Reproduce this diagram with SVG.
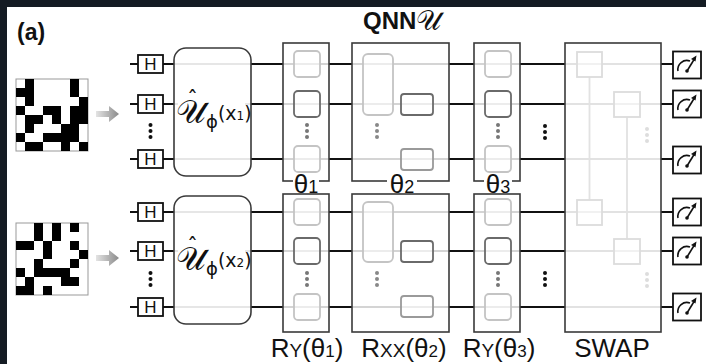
<svg xmlns="http://www.w3.org/2000/svg" width="706" height="364" viewBox="0 0 706 364">
  <defs>
    <style>
      .wire{stroke:#111;stroke-width:2;fill:none}
      .wire-in{stroke:#d4d4d4;stroke-width:2;fill:none}
      .wire-faint{stroke:#e6e6e6;stroke-width:2;fill:none}
      .blk{fill:none;stroke:#3a3a3a;stroke-width:1.6}
      .hbox{fill:#fff;stroke:#111;stroke-width:1.8}
      .htxt{font-family:"Liberation Sans",Arial,sans-serif;font-size:17px;fill:#111;text-anchor:middle}
      .g-light{fill:#fff;fill-opacity:0.55;stroke:#c4c4c4;stroke-width:1.8}
      .g-dark{fill:#fff;fill-opacity:0.55;stroke:#6a6a6a;stroke-width:1.8}
      .g-mid{fill:#fff;fill-opacity:0.55;stroke:#9a9a9a;stroke-width:1.8}
      .sw{fill:#fff;fill-opacity:0.5;stroke:#dcdcdc;stroke-width:1.8}
      .swl{stroke:#e2e2e2;stroke-width:1.8;fill:none}
      .lbl{font-family:"Liberation Sans",Arial,sans-serif;font-size:26px;fill:#111;text-anchor:middle}
      .enc{font-family:"DejaVu Sans","Noto Sans",sans-serif;fill:#111}
      .meas{fill:#fff;stroke:#111;stroke-width:1.8}
      .needle{stroke:#111;stroke-width:1.6;fill:none}
      .px{fill:#000}
    </style>
    <linearGradient id="arrowFill" x1="0" y1="0" x2="1" y2="0">
      <stop offset="0" stop-color="#e4e4e4"/>
      <stop offset="1" stop-color="#8a8a8a"/>
    </linearGradient>
    <g id="meter">
      <rect class="meas" x="-14" y="-13.5" width="28" height="27"/>
      <path class="needle" d="M -9 6 A 9 9 0 0 1 3 -4"/>
      <path class="needle" d="M 0 6 L 8 -7"/>
      <path d="M 9.5 -9.5 L 4 -6 L 8.5 -3.5 Z" fill="#111"/>
      <circle cx="0" cy="6" r="1.8" fill="#111"/>
    </g>
    <g id="vdots">
      <circle cx="0" cy="-6" r="2"/>
      <circle cx="0" cy="0" r="2"/>
      <circle cx="0" cy="6" r="2"/>
    </g>
  </defs>

  <rect width="706" height="364" fill="#fff"/>
  <!-- frame edges -->
  <rect x="0" y="0" width="706" height="7" fill="#141b23"/>
  <rect x="0" y="0" width="7" height="364" fill="#141b23"/>

  <text x="17" y="40" font-family="Liberation Sans,Arial,sans-serif" font-size="23" font-weight="bold" fill="#111">(a)</text>

  <!-- input images -->
  <g id="image1">
    <rect x="16" y="79" width="72" height="72" fill="#fff" stroke="#999" stroke-width="1"/>
    <g class="px" transform="translate(16,79)">
      <rect x="9" y="0" width="9" height="9"/><rect x="54" y="0" width="9" height="9"/>
      <rect x="0" y="9" width="18" height="9"/><rect x="54" y="9" width="9" height="9"/>
      <rect x="9" y="18" width="9" height="9"/><rect x="63" y="18" width="9" height="9"/>
      <rect x="0" y="27" width="9" height="9"/><rect x="27" y="27" width="18" height="9"/><rect x="54" y="27" width="18" height="9"/>
      <rect x="9" y="36" width="18" height="9"/><rect x="36" y="36" width="9" height="9"/><rect x="54" y="36" width="18" height="9"/>
      <rect x="9" y="45" width="9" height="9"/><rect x="45" y="45" width="18" height="9"/>
      <rect x="0" y="54" width="9" height="9"/><rect x="27" y="54" width="36" height="9"/>
      <rect x="9" y="63" width="18" height="9"/><rect x="45" y="63" width="9" height="9"/><rect x="63" y="63" width="9" height="9"/>
    </g>
  </g>
  <g id="image2">
    <rect x="16" y="223" width="72" height="72" fill="#fff" stroke="#999" stroke-width="1"/>
    <g class="px" transform="translate(16,223)">
      <rect x="18" y="0" width="9" height="18"/><rect x="36" y="0" width="9" height="18"/><rect x="54" y="0" width="9" height="9"/>
      <rect x="0" y="18" width="18" height="9"/><rect x="27" y="18" width="9" height="18"/><rect x="54" y="18" width="9" height="9"/>
      <rect x="63" y="27" width="9" height="9"/>
      <rect x="18" y="36" width="9" height="9"/><rect x="54" y="36" width="9" height="9"/>
      <rect x="0" y="45" width="9" height="9"/><rect x="18" y="45" width="36" height="9"/>
      <rect x="9" y="54" width="9" height="18"/><rect x="45" y="54" width="18" height="9"/>
      <rect x="0" y="63" width="9" height="9"/><rect x="27" y="63" width="9" height="9"/>
    </g>
  </g>

  <g id="connectors">
    <!-- image to circuit arrows -->
    <path d="M 96 111 H 109 V 106 L 119 114 L 109 122 V 117 H 96 Z" fill="url(#arrowFill)"/>
    <path d="M 96 255 H 109 V 250 L 119 258 L 109 266 V 261 H 96 Z" fill="url(#arrowFill)"/>

    <!-- qubit wires, upper register -->
    <g class="wire">
      <path d="M130 64H138M163 64H174M251 64H283M329 64H352M449 64H474M520 64H565M661 64H673"/>
      <path d="M130 104H138M163 104H174M251 104H283M329 104H352M449 104H474M520 104H565M661 104H673"/>
      <path d="M130 159H138M163 159H174M251 159H283M329 159H352M449 159H474M520 159H565M661 159H673"/>
    </g>
    <!-- qubit wires, lower register -->
    <g class="wire">
      <path d="M130 212H138M163 212H174M251 212H283M329 212H352M449 212H474M520 212H565M661 212H673"/>
      <path d="M130 251H138M163 251H174M251 251H283M329 251H352M449 251H474M520 251H565M661 251H673"/>
      <path d="M130 307H138M163 307H174M251 307H283M329 307H352M449 307H474M520 307H565M661 307H673"/>
    </g>
    <!-- wires seen through the blocks -->
    <g class="wire-faint">
      <path d="M174 64H251M174 104H178M245 104H251M174 159H251M174 212H251M174 251H178M245 251H251M174 307H251"/>
    </g>
    <g class="wire-in">
      <path d="M283 64H329M283 104H329M283 159H329M283 212H329M283 251H329M283 307H329"/>
      <path d="M352 64H449M352 104H449M352 159H449M352 212H449M352 251H449M352 307H449"/>
      <path d="M474 64H520M474 104H520M474 159H520M474 212H520M474 251H520M474 307H520"/>
    </g>
    <g class="swl">
      <path d="M565 64H661M565 104H661M565 159H661M565 212H661M565 251H661M565 307H661"/>
      <path d="M589.5 77V200M627 117V239"/>
    </g>
  </g>

  <!-- Hadamard layers -->
  <g id="hadamard1">
    <rect class="hbox" x="138" y="55" width="25" height="18"/><text class="htxt" x="150.5" y="70">H</text>
    <rect class="hbox" x="138" y="95" width="25" height="18"/><text class="htxt" x="150.5" y="110">H</text>
    <rect class="hbox" x="138" y="150" width="25" height="18"/><text class="htxt" x="150.5" y="165">H</text>
    <use href="#vdots" x="150.5" y="131" fill="#111"/>
  </g>
  <g id="hadamard2">
    <rect class="hbox" x="138" y="203" width="25" height="18"/><text class="htxt" x="150.5" y="218">H</text>
    <rect class="hbox" x="138" y="242" width="25" height="18"/><text class="htxt" x="150.5" y="257">H</text>
    <rect class="hbox" x="138" y="298" width="25" height="18"/><text class="htxt" x="150.5" y="313">H</text>
    <use href="#vdots" x="150.5" y="279" fill="#111"/>
  </g>

  <!-- data encoding unitaries -->
  <g id="encoder1">
    <rect x="174" y="48" width="77" height="128" rx="12" fill="none" stroke="#3a3a3a" stroke-width="1.6"/>
    <text class="enc"><tspan x="176" y="123" font-size="33">𝒰</tspan><tspan font-size="18" dy="5">ϕ</tspan><tspan font-size="19" dy="-8">(x</tspan><tspan font-size="12">1</tspan><tspan font-size="19">)</tspan><tspan x="187" y="106" font-size="22">ˆ</tspan></text>
  </g>
  <g id="encoder2">
    <rect x="174" y="196" width="77" height="128" rx="12" fill="none" stroke="#3a3a3a" stroke-width="1.6"/>
    <text class="enc"><tspan x="176" y="270" font-size="33">𝒰</tspan><tspan font-size="18" dy="5">ϕ</tspan><tspan font-size="19" dy="-8">(x</tspan><tspan font-size="12">2</tspan><tspan font-size="19">)</tspan><tspan x="187" y="253" font-size="22">ˆ</tspan></text>
  </g>

  <!-- title -->
  <text x="363" y="29" font-family="Liberation Sans,Arial,sans-serif" font-size="24" font-weight="bold" fill="#111">QNN<tspan font-family="DejaVu Sans,Noto Sans,serif" font-weight="normal" font-size="28" dy="1">𝒰</tspan></text>

  <!-- RY(θ1) layer -->
  <g id="ry1">
    <rect class="blk" x="283" y="43" width="46" height="138"/>
    <rect class="g-light" x="294" y="51" width="26" height="26" rx="4"/>
    <rect class="g-dark" x="294" y="91" width="26" height="26" rx="4"/>
    <rect class="g-light" x="294" y="146" width="26" height="26" rx="4"/>
    <use href="#vdots" x="307" y="131" fill="#777"/>
    <rect class="blk" x="283" y="194" width="46" height="138"/>
    <rect class="g-light" x="294" y="199" width="26" height="26" rx="4"/>
    <rect class="g-dark" x="294" y="238" width="26" height="26" rx="4"/>
    <rect class="g-light" x="294" y="294" width="26" height="26" rx="4"/>
    <use href="#vdots" x="307" y="279" fill="#777"/>
    <rect x="293" y="176" width="26" height="12" fill="#fff"/>
    <text class="lbl" x="306" y="193" font-size="28">θ<tspan font-size="18">1</tspan></text>
  </g>

  <!-- RXX(θ2) layer -->
  <g id="rxx">
    <rect class="blk" x="352" y="43" width="97" height="138"/>
    <rect class="g-light" x="363" y="54" width="30" height="61" rx="5"/>
    <rect class="g-dark" x="401" y="94" width="32" height="21" rx="3"/>
    <rect class="g-mid" x="401" y="149" width="32" height="21" rx="3"/>
    <use href="#vdots" x="377" y="131" fill="#888"/>
    <rect class="blk" x="352" y="194" width="97" height="138"/>
    <rect class="g-light" x="363" y="202" width="30" height="60" rx="5"/>
    <rect class="g-dark" x="401" y="241" width="32" height="21" rx="3"/>
    <rect class="g-mid" x="401" y="296" width="32" height="21" rx="3"/>
    <use href="#vdots" x="377" y="279" fill="#888"/>
    <rect x="387" y="176" width="30" height="12" fill="#fff"/>
    <text class="lbl" x="402" y="193" font-size="28">θ<tspan font-size="18">2</tspan></text>
  </g>

  <!-- RY(θ3) layer -->
  <g id="ry3">
    <rect class="blk" x="474" y="43" width="46" height="138"/>
    <rect class="g-light" x="485" y="51" width="26" height="26" rx="4"/>
    <rect class="g-dark" x="485" y="91" width="26" height="26" rx="4"/>
    <rect class="g-light" x="485" y="146" width="26" height="26" rx="4"/>
    <use href="#vdots" x="498" y="131" fill="#777"/>
    <rect class="blk" x="474" y="194" width="46" height="138"/>
    <rect class="g-light" x="485" y="199" width="26" height="26" rx="4"/>
    <rect class="g-dark" x="485" y="238" width="26" height="26" rx="4"/>
    <rect class="g-light" x="485" y="294" width="26" height="26" rx="4"/>
    <use href="#vdots" x="498" y="279" fill="#777"/>
    <rect x="484" y="176" width="28" height="12" fill="#fff"/>
    <text class="lbl" x="498" y="193" font-size="28">θ<tspan font-size="18">3</tspan></text>
  </g>

  <g id="gap-dots" fill="#111">
    <use href="#vdots" x="545" y="132"/>
    <use href="#vdots" x="545" y="279"/>
  </g>

  <!-- SWAP test -->
  <g id="swap">
    <rect class="blk" x="565" y="43" width="96" height="289"/>
    <rect class="sw" x="577" y="52" width="25" height="25"/>
    <rect class="sw" x="614" y="92" width="26" height="25"/>
    <rect class="sw" x="577" y="200" width="25" height="25"/>
    <rect class="sw" x="614" y="239" width="26" height="25"/>
    <use href="#vdots" x="647" y="135" fill="#ddd"/>
    <use href="#vdots" x="647" y="280" fill="#ddd"/>
  </g>

  <!-- measurements -->
  <g id="measure">
    <use href="#meter" x="687" y="65"/>
    <use href="#meter" x="687" y="104"/>
    <use href="#meter" x="687" y="160"/>
    <use href="#meter" x="687" y="212"/>
    <use href="#meter" x="687" y="251"/>
    <use href="#meter" x="687" y="307"/>
  </g>

  <!-- layer labels -->
  <g id="labels">
    <text class="lbl" x="307" y="357">R<tspan font-size="19">Y</tspan>(θ<tspan font-size="17">1</tspan>)</text>
    <text class="lbl" x="404" y="357">R<tspan font-size="19">XX</tspan>(θ<tspan font-size="17">2</tspan>)</text>
    <text class="lbl" x="499" y="357">R<tspan font-size="19">Y</tspan>(θ<tspan font-size="17">3</tspan>)</text>
    <text class="lbl" x="612" y="357" font-size="27">SWAP</text>
  </g>
</svg>
